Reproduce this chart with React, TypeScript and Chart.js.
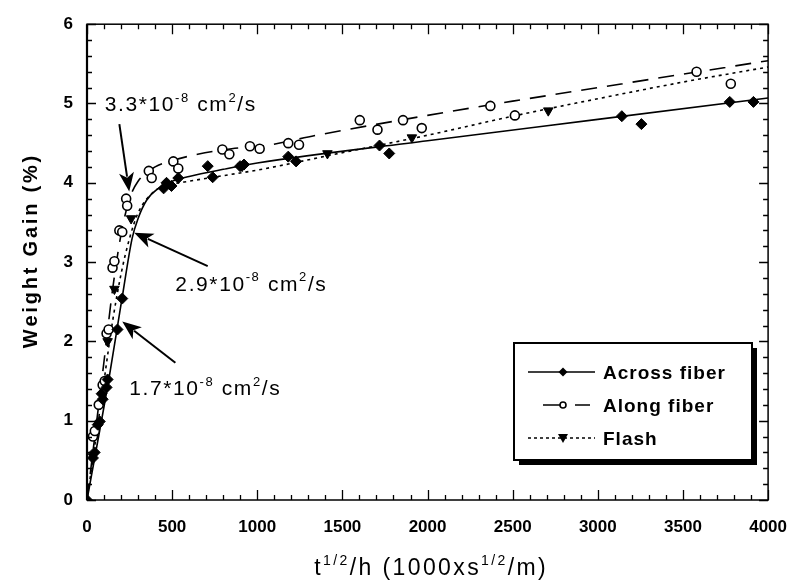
import React, { useEffect, useRef } from "react";
import { Chart, registerables } from "chart.js";

Chart.register(...registerables);

// ---- Measured points ----
const acrossX = [0, 35, 45, 63, 75, 86, 92, 115, 121, 179, 207, 450, 467, 496, 536, 709, 738, 899, 922, 1182, 1228, 1718, 1775, 3141, 3256, 3775, 3914];
const acrossY = [0, 0.53, 0.6, 0.95, 0.99, 1.34, 1.27, 1.42, 1.52, 2.15, 2.54, 3.93, 4.0, 3.96, 4.06, 4.21, 4.07, 4.21, 4.23, 4.33, 4.27, 4.47, 4.37, 4.84, 4.74, 5.02, 5.02];

const alongX = [35, 46, 69, 92, 104, 115, 127, 150, 161, 190, 207, 230, 236, 363, 380, 507, 536, 795, 836, 957, 1014, 1182, 1245, 1602, 1706, 1856, 1966, 2369, 2513, 3580, 3781];
const alongY = [0.8, 0.87, 1.2, 1.45, 1.5, 2.1, 2.15, 2.93, 3.01, 3.4, 3.38, 3.8, 3.71, 4.15, 4.06, 4.27, 4.18, 4.42, 4.36, 4.46, 4.43, 4.5, 4.48, 4.79, 4.67, 4.79, 4.69, 4.97, 4.85, 5.4, 5.25];

const flashX = [35, 121, 161, 259, 911, 1412, 1908, 2709];
const flashY = [0.55, 2.0, 2.66, 3.55, 4.21, 4.37, 4.57, 4.91];

// ---- Fitted curves ----
const acrossFitX = [0, 132, 207, 265, 300, 350, 420, 500, 600, 800, 1000, 2000, 3000, 4000];
const acrossFitY = [0, 1.57, 2.56, 3.3, 3.55, 3.78, 3.93, 4.02, 4.08, 4.17, 4.25, 4.53, 4.8, 5.07];

const alongFitX = [0, 100, 150, 200, 250, 300, 400, 500, 650, 850, 1050, 1350, 2000, 2500, 3000, 3500, 4000];
const alongFitY = [0, 1.75, 2.65, 3.35, 3.8, 4.02, 4.2, 4.28, 4.36, 4.43, 4.47, 4.6, 4.85, 5.03, 5.2, 5.37, 5.54];

const flashFitX = [0, 100, 150, 200, 250, 300, 400, 500, 600, 800, 1000, 1500, 2000, 2500, 3000, 3500, 4000];
const flashFitY = [0, 1.5, 2.25, 2.85, 3.3, 3.62, 3.9, 3.98, 4.02, 4.09, 4.16, 4.38, 4.6, 4.84, 5.06, 5.27, 5.46];

// ---- Axes ----
const X_MIN = 0, X_MAX = 4000, X_MAJOR = 500, X_MINOR = 100;
const Y_MIN = 0, Y_MAX = 6, Y_MAJOR = 1, Y_MINOR_DIV = 5;

const seriesNames = ["Across fiber", "Along fiber", "Flash"];

// diffusion coefficient labels (mantissa of x10^-8 cm^2/s)
const diffLabels = ["3.3", "2.9", "1.7"];
// annotation anchors (data coords): text start and arrow from/to
const annotations = [
  { tx: 104, ty: 4.9, ax1: 190, ay1: 4.74, ax2: 248, ay2: 3.89 },
  { tx: 519, ty: 2.64, ax1: 709, ay1: 2.95, ax2: 277, ay2: 3.37 },
  { tx: 248, ty: 1.32, ax1: 519, ay1: 1.73, ax2: 207, ay2: 2.25 },
];

const SANS = '"Liberation Sans", Arial, Helvetica, sans-serif';

const pts = (xs: number[], ys: number[]) => xs.map((x, i) => ({ x, y: ys[i] }));

type Part = [string, boolean];

function partWidth(ctx: CanvasRenderingContext2D, parts: Part[], size: number, weight: string, spacing: number) {
  let w = 0;
  for (const [t, sup] of parts) {
    ctx.font = `${weight} ${sup ? Math.round(size * 0.62) : size}px ${SANS}`;
    for (const ch of t) w += ctx.measureText(ch).width + spacing;
  }
  return w - spacing;
}

function drawParts(
  ctx: CanvasRenderingContext2D,
  parts: Part[],
  x: number,
  y: number,
  size: number,
  weight: string,
  spacing: number,
  align: "left" | "center" = "left"
) {
  ctx.textBaseline = "alphabetic";
  ctx.textAlign = "left";
  let cx = x;
  if (align === "center") cx = x - partWidth(ctx, parts, size, weight, spacing) / 2;
  for (const [t, sup] of parts) {
    const s = sup ? Math.round(size * 0.62) : size;
    ctx.font = `${weight} ${s}px ${SANS}`;
    const yy = sup ? y - size * 0.45 : y;
    for (const ch of t) {
      ctx.fillText(ch, cx, yy);
      cx += ctx.measureText(ch).width + spacing;
    }
  }
}

function arrow(ctx: CanvasRenderingContext2D, x1: number, y1: number, x2: number, y2: number) {
  const ang = Math.atan2(y2 - y1, x2 - x1);
  const L = 19, W = 7.5;
  ctx.beginPath();
  ctx.moveTo(x1, y1);
  ctx.lineTo(x2 - Math.cos(ang) * (L - 4), y2 - Math.sin(ang) * (L - 4));
  ctx.lineWidth = 2;
  ctx.stroke();
  const bx = x2 - Math.cos(ang) * L, by = y2 - Math.sin(ang) * L;
  const nx = -Math.sin(ang), ny = Math.cos(ang);
  const mx = x2 - Math.cos(ang) * (L - 5), my = y2 - Math.sin(ang) * (L - 5);
  ctx.beginPath();
  ctx.moveTo(x2, y2);
  ctx.lineTo(bx + nx * W, by + ny * W);
  ctx.lineTo(mx, my);
  ctx.lineTo(bx - nx * W, by - ny * W);
  ctx.closePath();
  ctx.fill();
}

const decor = {
  id: "decor",
  afterDatasetsDraw(chart: any) {
    const { ctx, chartArea, scales } = chart;
    const { left, right, top, bottom } = chartArea;
    const xs = scales.x, ys = scales.y;
    ctx.save();
    ctx.strokeStyle = "#000";
    ctx.fillStyle = "#000";
    // frame
    ctx.lineWidth = 1.5;
    ctx.strokeRect(left, top, right - left, bottom - top);
    ctx.lineWidth = 2.2;
    ctx.beginPath();
    ctx.moveTo(left, top);
    ctx.lineTo(left, bottom);
    ctx.stroke();
    // ticks
    ctx.lineWidth = 1.3;
    ctx.beginPath();
    for (let v = X_MIN; v <= X_MAX; v += X_MINOR) {
      const px = Math.round(xs.getPixelForValue(v)) + 0.5;
      const len = v % X_MAJOR === 0 ? 10 : 5;
      ctx.moveTo(px, bottom);
      ctx.lineTo(px, bottom - len);
      ctx.moveTo(px, top);
      ctx.lineTo(px, top + len);
    }
    const nY = (Y_MAX - Y_MIN) * Y_MINOR_DIV;
    for (let i = 0; i <= nY; i++) {
      const v = Y_MIN + i / Y_MINOR_DIV;
      const py = Math.round(ys.getPixelForValue(v)) + 0.5;
      const len = i % (Y_MAJOR * Y_MINOR_DIV) === 0 ? 9 : 5;
      ctx.moveTo(left, py);
      ctx.lineTo(left + len, py);
      ctx.moveTo(right, py);
      ctx.lineTo(right - len, py);
    }
    ctx.stroke();

    // annotations
    annotations.forEach((a, i) => {
      const parts: Part[] = [
        [diffLabels[i] + "*10", false],
        ["-8", true],
        [" cm", false],
        ["2", true],
        ["/s", false],
      ];
      drawParts(ctx, parts, xs.getPixelForValue(a.tx), ys.getPixelForValue(a.ty), 21, "normal", 1.6);
      arrow(
        ctx,
        xs.getPixelForValue(a.ax1),
        ys.getPixelForValue(a.ay1),
        xs.getPixelForValue(a.ax2),
        ys.getPixelForValue(a.ay2)
      );
    });

    // axis titles
    drawParts(
      ctx,
      [["t", false], ["1/2", true], ["/h (1000xs", false], ["1/2", true], ["/m)", false]],
      430,
      575,
      23,
      "normal",
      2.4,
      "center"
    );
    ctx.save();
    ctx.translate(37, 252);
    ctx.rotate(-Math.PI / 2);
    drawParts(ctx, [["Weight Gain (%)", false]], 0, 0, 20, "bold", 2.8, "center");
    ctx.restore();

    // legend
    const bx = 514, by = 343, bw = 238, bh = 117;
    ctx.fillStyle = "#000";
    ctx.fillRect(bx + 5, by + 5, bw, bh);
    ctx.fillStyle = "#fff";
    ctx.fillRect(bx, by, bw, bh);
    ctx.lineWidth = 2;
    ctx.strokeRect(bx, by, bw, bh);
    ctx.fillStyle = "#000";
    const rows = [372, 405, 438];
    const lx1 = 528, lx2 = 595, mx = 563;
    ctx.lineWidth = 1.6;
    // across
    ctx.setLineDash([]);
    ctx.beginPath();
    ctx.moveTo(lx1, rows[0]);
    ctx.lineTo(lx2, rows[0]);
    ctx.stroke();
    ctx.beginPath();
    ctx.moveTo(mx, rows[0] - 4.5);
    ctx.lineTo(mx + 4.5, rows[0]);
    ctx.lineTo(mx, rows[0] + 4.5);
    ctx.lineTo(mx - 4.5, rows[0]);
    ctx.closePath();
    ctx.fill();
    // along
    ctx.beginPath();
    ctx.moveTo(543, rows[1]);
    ctx.lineTo(mx - 3, rows[1]);
    ctx.moveTo(575, rows[1]);
    ctx.lineTo(590, rows[1]);
    ctx.stroke();
    ctx.beginPath();
    ctx.arc(mx, rows[1], 3, 0, Math.PI * 2);
    ctx.fillStyle = "#fff";
    ctx.fill();
    ctx.stroke();
    ctx.fillStyle = "#000";
    // flash
    ctx.setLineDash([3, 3]);
    ctx.beginPath();
    ctx.moveTo(lx1, rows[2]);
    ctx.lineTo(lx2, rows[2]);
    ctx.stroke();
    ctx.setLineDash([]);
    ctx.beginPath();
    ctx.moveTo(mx - 5, rows[2] - 4);
    ctx.lineTo(mx + 5, rows[2] - 4);
    ctx.lineTo(mx, rows[2] + 5);
    ctx.closePath();
    ctx.fill();
    seriesNames.forEach((n, i) => {
      drawParts(ctx, [[n, false]], 603, rows[i] + 7, 19, "bold", 1);
    });
    ctx.restore();
  },
};

export default function App() {
  const ref = useRef<HTMLCanvasElement>(null);
  useEffect(() => {
    const chart = new Chart(ref.current!, {
      type: "scatter",
      data: {
        datasets: [
          {
            label: seriesNames[0] + " data",
            data: pts(acrossX, acrossY),
            pointStyle: "rectRot",
            pointRadius: 5.5,
            backgroundColor: "#000",
            borderColor: "#000",
            borderWidth: 1,
            showLine: false,
          },
          {
            label: seriesNames[1] + " data",
            data: pts(alongX, alongY),
            pointStyle: "circle",
            pointRadius: 4.5,
            backgroundColor: "#fff",
            borderColor: "#000",
            borderWidth: 1.6,
            showLine: false,
          },
          {
            label: seriesNames[2] + " data",
            data: pts(flashX, flashY),
            pointStyle: "triangle",
            rotation: 180,
            pointRadius: 5.5,
            backgroundColor: "#000",
            borderColor: "#000",
            borderWidth: 1,
            showLine: false,
          },
          {
            label: seriesNames[0],
            data: pts(acrossFitX, acrossFitY),
            showLine: true,
            borderColor: "#000",
            borderWidth: 1.6,
            pointRadius: 0,
            cubicInterpolationMode: "monotone",
          },
          {
            label: seriesNames[1],
            data: pts(alongFitX, alongFitY),
            showLine: true,
            borderColor: "#000",
            borderWidth: 1.6,
            borderDash: [16, 10],
            pointRadius: 0,
            cubicInterpolationMode: "monotone",
          },
          {
            label: seriesNames[2],
            data: pts(flashFitX, flashFitY),
            showLine: true,
            borderColor: "#000",
            borderWidth: 1.6,
            borderDash: [3, 4],
            pointRadius: 0,
            cubicInterpolationMode: "monotone",
          },
        ],
      },
      options: {
        responsive: false,
        devicePixelRatio: 1,
        animation: false,
        layout: { padding: { top: 15, right: 23, left: 0, bottom: 0 } },
        plugins: { legend: { display: false }, tooltip: { enabled: false } },
        scales: {
          x: {
            type: "linear",
            min: X_MIN,
            max: X_MAX,
            grid: { display: false, drawTicks: false },
            border: { display: false },
            ticks: {
              stepSize: X_MAJOR,
              color: "#000",
              padding: 17,
              maxRotation: 0,
              font: { family: SANS, size: 17, weight: "bold" },
              callback: (v: any) => String(v),
            },
            afterFit: (s: any) => {
              s.height = 82;
            },
          },
          y: {
            type: "linear",
            min: Y_MIN,
            max: Y_MAX,
            grid: { display: false, drawTicks: false },
            border: { display: false },
            ticks: {
              stepSize: Y_MAJOR,
              color: "#000",
              padding: 14,
              font: { family: SANS, size: 17, weight: "bold" },
              callback: (v: any) => String(v),
            },
            afterFit: (s: any) => {
              s.width = 87;
            },
          },
        },
      },
      plugins: [decor],
    } as any);
    return () => chart.destroy();
  }, []);
  return (
    <div style={{ position: "fixed", left: 0, top: 0, width: 804, height: 582, background: "#fff" }}>
      <canvas ref={ref} width={804} height={582} style={{ display: "block", width: 804, height: 582 }} />
    </div>
  );
}
